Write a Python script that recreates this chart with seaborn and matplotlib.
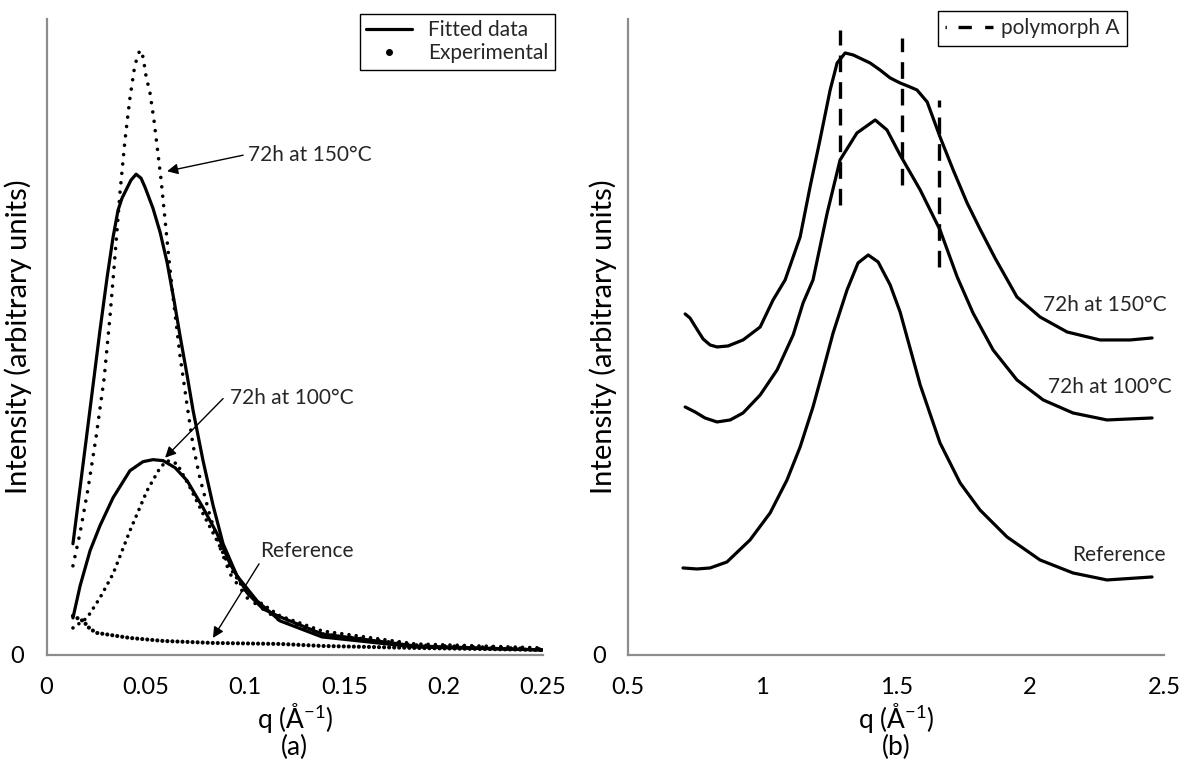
import matplotlib
matplotlib.use("Agg")
import matplotlib.pyplot as plt
from matplotlib.lines import Line2D
import seaborn as sns

# ---------------- Panel (a) data : SAXS ----------------
q_exp150 = [0.0133, 0.0169, 0.0209, 0.0249, 0.0290, 0.0320, 0.0345, 0.0370, 0.0395, 0.0420,
            0.0441, 0.0456, 0.0471, 0.0486, 0.0501, 0.0521, 0.0541, 0.0556, 0.0577, 0.0597,
            0.0617, 0.0642, 0.0672, 0.0708, 0.0738, 0.0773, 0.0823, 0.0874, 0.0924, 0.1010,
            0.1176, 0.1387, 0.1856, 0.2500]
I_exp150 = [89, 122, 166, 217, 276, 339, 399, 462, 514, 556,
            584, 597, 604, 597, 578, 561, 534, 509, 474, 434,
            394, 349, 299, 249, 209, 176, 139, 107, 81, 57,
            34, 21, 10, 6]

q_fit150 = [0.0133, 0.0199, 0.0269, 0.0305, 0.0335, 0.0360, 0.0380, 0.0405, 0.0425, 0.0451,
            0.0476, 0.0496, 0.0536, 0.0572, 0.0607, 0.0642, 0.0672, 0.0708, 0.0738, 0.0788,
            0.0839, 0.0889, 0.0959, 0.1060, 0.1176, 0.1387, 0.1856, 0.2500]
I_fit150 = [111, 214, 324, 377, 417, 444, 456, 466, 474, 480,
            476, 467, 446, 422, 392, 354, 319, 279, 244, 194,
            149, 111, 79, 54, 34, 18, 8, 5]

q_exp100 = [0.0133, 0.0204, 0.0269, 0.0335, 0.0420, 0.0506, 0.0572, 0.0607, 0.0657, 0.0723,
            0.0788, 0.0859, 0.0924, 0.1010, 0.1176, 0.1387, 0.1856, 0.2500]
I_exp100 = [27, 37, 57, 81, 124, 164, 187, 194, 191, 167,
            141, 114, 87, 61, 39, 24, 11, 7]

q_fit100 = [0.0133, 0.0169, 0.0219, 0.0269, 0.0335, 0.0420, 0.0486, 0.0536, 0.0587, 0.0647,
            0.0708, 0.0788, 0.0859, 0.0924, 0.1010, 0.1090, 0.1176, 0.1387, 0.1856, 0.2500]
I_fit100 = [37, 69, 104, 129, 157, 184, 193, 195, 194, 187,
            174, 147, 121, 91, 62, 46, 38, 21, 9, 5]

q_ref_a = [0.0133, 0.0184, 0.0219, 0.0254, 0.0420, 0.0587, 0.0838, 0.1176, 0.1387, 0.1856, 0.2500]
I_ref_a = [39, 34, 26, 22, 17, 14, 12, 11, 9, 7, 5]

xticks_a = [0, 0.05, 0.1, 0.15, 0.2, 0.25]
xticklabels_a = ["0", "0.05", "0.1", "0.15", "0.2", "0.25"]

# ---------------- Panel (b) data : WAXS ----------------
q_b150 = [0.713, 0.731, 0.754, 0.780, 0.806, 0.832, 0.873, 0.929, 0.993, 1.041,
          1.086, 1.142, 1.179, 1.216, 1.254, 1.280, 1.310, 1.340, 1.403, 1.440,
          1.478, 1.515, 1.552, 1.578, 1.616, 1.664, 1.713, 1.765, 1.813, 1.869,
          1.951, 2.037, 2.138, 2.261, 2.373, 2.455]
I_b150 = [341, 337, 327, 316, 310, 308, 309, 315, 328, 355,
          375, 418, 468, 515, 565, 592, 602, 600, 592, 585,
          577, 572, 568, 565, 553, 518, 485, 452, 426, 397,
          358, 338, 323, 315, 315, 317]

q_b100 = [0.713, 0.750, 0.787, 0.832, 0.881, 0.929, 0.993, 1.056, 1.116, 1.153,
          1.190, 1.243, 1.291, 1.354, 1.422, 1.466, 1.515, 1.590, 1.664, 1.728,
          1.787, 1.862, 1.951, 2.049, 2.160, 2.287, 2.455]
I_b100 = [248, 243, 237, 233, 235, 242, 260, 285, 320, 352,
          375, 442, 495, 522, 535, 525, 500, 465, 425, 378,
          342, 305, 275, 255, 242, 235, 237]

q_bref = [0.705, 0.757, 0.806, 0.869, 0.955, 1.030, 1.093, 1.142, 1.190, 1.228,
          1.265, 1.317, 1.358, 1.396, 1.433, 1.478, 1.515, 1.552, 1.590, 1.664,
          1.739, 1.813, 1.914, 2.037, 2.160, 2.287, 2.455]
I_bref = [87, 86, 87, 93, 115, 142, 175, 208, 248, 285,
          322, 365, 392, 400, 393, 370, 343, 307, 270, 212,
          172, 145, 118, 95, 82, 75, 78]

# polymorph A reflections (q position, lower and upper intensity of marker)
q_polyA = [1.291, 1.522, 1.660]
I_polyA_low = [450, 470, 388]
I_polyA_high = [625, 617, 555]

xticks_b = [0.5, 1, 1.5, 2, 2.5]
xticklabels_b = ["0.5", "1", "1.5", "2", "2.5"]

# ---------------- style ----------------
sns.set_theme(style="white")
plt.rcParams["font.family"] = ["Lato", "DejaVu Sans"]
plt.rcParams["mathtext.fontset"] = "custom"
plt.rcParams["mathtext.rm"] = "Lato"
plt.rcParams["mathtext.it"] = "Lato"

AXCOL = "#8c8c8c"
LW = 2.3

fig = plt.figure(figsize=(11.81, 7.71), dpi=100)
ax1 = fig.add_axes([0.0394, 0.1505, 0.4204, 0.8249])
ax2 = fig.add_axes([0.5318, 0.1505, 0.4539, 0.8249])


def style_axis(ax):
    for s in ["top", "right"]:
        ax.spines[s].set_visible(False)
    for s in ["left", "bottom"]:
        ax.spines[s].set_color(AXCOL)
        ax.spines[s].set_linewidth(1.6)
    ax.tick_params(axis="both", direction="out", length=6, width=1.6,
                   color=AXCOL, labelsize=17, labelcolor="black")
    ax.tick_params(axis="x", pad=10)
    ax.tick_params(axis="y", pad=10)
    ax.set_yticks([0])
    ax.set_yticklabels(["0"])
    ax.grid(False)


# ---- panel (a)
sns.lineplot(x=q_exp150, y=I_exp150, ax=ax1, sort=False, estimator=None,
             color="black", linestyle=(0, (0.01, 2.6)), dash_capstyle="round", lw=2.6)
sns.lineplot(x=q_exp100, y=I_exp100, ax=ax1, sort=False, estimator=None,
             color="black", linestyle=(0, (0.01, 2.0)), dash_capstyle="round", lw=2.6)
sns.lineplot(x=q_ref_a, y=I_ref_a, ax=ax1, sort=False, estimator=None,
             color="black", linestyle=(0, (0.01, 1.2)), dash_capstyle="round", lw=3.0)
sns.lineplot(x=q_fit150, y=I_fit150, ax=ax1, sort=False, estimator=None,
             color="black", lw=LW)
sns.lineplot(x=q_fit100, y=I_fit100, ax=ax1, sort=False, estimator=None,
             color="black", lw=LW)

ax1.set_xlim(0, 0.25)
ax1.set_ylim(0, 635)
ax1.set_xticks(xticks_a)
ax1.set_xticklabels(xticklabels_a)
style_axis(ax1)
ax1.set_xlabel("q (Å$^{\\mathregular{-1}}$)", fontsize=19, color="black")
ax1.xaxis.set_label_coords(0.5, -0.073)
ax1.text(0.5, -0.146, "(a)", transform=ax1.transAxes, ha="center", va="center",
         fontsize=19, color="black")
ax1.set_ylabel("Intensity (arbitrary units)", fontsize=21, color="black")
ax1.yaxis.set_label_coords(-0.029, 0.5)

arrow_kw = dict(arrowstyle="-|>", color="black", lw=1.0, mutation_scale=16,
                shrinkA=0, shrinkB=0)
ax1.annotate("", xy=(0.0607, 483), xytext=(0.0990, 499), arrowprops=arrow_kw)
ax1.text(0.1015, 499, "72h at 150°C", fontsize=15, ha="left", va="center")
ax1.annotate("", xy=(0.0597, 197), xytext=(0.0889, 256), arrowprops=arrow_kw)
ax1.text(0.0924, 257, "72h at 100°C", fontsize=15, ha="left", va="center")
ax1.annotate("", xy=(0.0838, 17), xytext=(0.1070, 91), arrowprops=arrow_kw)
ax1.text(0.1075, 104, "Reference", fontsize=15, ha="left", va="center")

h_fit = Line2D([], [], color="black", lw=LW)
h_exp = Line2D([], [], color="black", lw=0, marker="o", markersize=4)
leg1 = ax1.legend([h_fit, h_exp], ["Fitted data", "Experimental"],
                  loc="upper right", bbox_to_anchor=(555 / 1181, 1 - 14 / 771),
                  bbox_transform=fig.transFigure, borderaxespad=0, fontsize=15,
                  frameon=True, fancybox=False, edgecolor="black", framealpha=1,
                  handlelength=2.2, labelspacing=0.15, borderpad=0.3,
                  handletextpad=0.8)
leg1.get_frame().set_linewidth(1.0)

# ---- panel (b)
for qq, ii in [(q_b150, I_b150), (q_b100, I_b100), (q_bref, I_bref)]:
    sns.lineplot(x=qq, y=ii, ax=ax2, sort=False, estimator=None,
                 color="black", lw=LW)
for qp, lo, hi in zip(q_polyA, I_polyA_low, I_polyA_high):
    sns.lineplot(x=[qp, qp], y=[lo, hi], ax=ax2, sort=False, estimator=None,
                 color="black", lw=2.4, linestyle=(0, (5, 3)))

ax2.set_xlim(0.5, 2.5)
ax2.set_ylim(0, 636)
ax2.set_xticks(xticks_b)
ax2.set_xticklabels(xticklabels_b)
style_axis(ax2)
ax2.set_xlabel("q (Å$^{\\mathregular{-1}}$)", fontsize=19, color="black")
ax2.xaxis.set_label_coords(0.5, -0.073)
ax2.text(0.5, -0.146, "(b)", transform=ax2.transAxes, ha="center", va="center",
         fontsize=19, color="black")
ax2.set_ylabel("Intensity (arbitrary units)", fontsize=21, color="black")
ax2.yaxis.set_label_coords(-0.020, 0.5)

ax2.text(2.049, 350, "72h at 150°C", fontsize=15, ha="left", va="center", clip_on=False)
ax2.text(2.067, 268, "72h at 100°C", fontsize=15, ha="left", va="center", clip_on=False)
ax2.text(2.157, 100, "Reference", fontsize=15, ha="left", va="center", clip_on=False)

h_poly = Line2D([], [], color="black", lw=2.4,
                linestyle=(0, (0.4, 3.5, 4, 4, 4, 4)), dash_capstyle="butt")
leg2 = ax2.legend([h_poly], ["polymorph A"],
                  loc="upper right", bbox_to_anchor=(1127 / 1181, 1 - 11 / 771),
                  bbox_transform=fig.transFigure, borderaxespad=0, fontsize=15,
                  frameon=True, fancybox=False, edgecolor="black", framealpha=1,
                  handlelength=2.3, borderpad=0.35, handletextpad=0.4)
leg2.get_frame().set_linewidth(1.0)

fig.savefig("out.png", dpi=100)
